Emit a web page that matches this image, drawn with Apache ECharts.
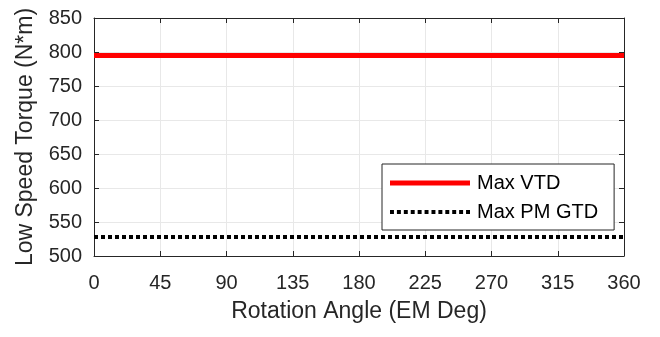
<!DOCTYPE html>
<html>
<head>
<meta charset="utf-8">
<script src="https://cdn.jsdelivr.net/npm/echarts@6/dist/echarts.min.js"></script>
<style>html,body{margin:0;padding:0;background:#fff}#c{width:660px;height:337px}</style>
</head>
<body>
<div id="c"></div>
<script>
const angles = [0, 45, 90, 135, 180, 225, 270, 315, 360];
const maxVTD = [795, 795, 795, 795, 795, 795, 795, 795, 795];
const maxPMGTD = [528, 528, 528, 528, 528, 528, 528, 528, 528];
const xTicks = [0, 45, 90, 135, 180, 225, 270, 315, 360];
const yTicks = [500, 550, 600, 650, 700, 750, 800, 850];

const axisColor = '#262626';
const font = 'Liberation Sans, Arial, sans-serif';
const chart = echarts.init(document.getElementById('c'));
const baseX = {
  type: 'value', min: xTicks[0], max: xTicks[xTicks.length-1], interval: 45,
  axisLine: {show: true, onZero: false, lineStyle: {color: axisColor, width: 1}},
  axisTick: {show: true, inside: true, length: 5, lineStyle: {color: axisColor}},
};
const baseY = {
  type: 'value', min: yTicks[0], max: yTicks[yTicks.length-1], interval: 50,
  axisLine: {show: true, onZero: false, lineStyle: {color: axisColor, width: 1}},
  axisTick: {show: true, inside: true, length: 5, lineStyle: {color: axisColor}},
};
let dots = '';
for (let k = 0; k < 12; k++) dots += 'M' + (k*7) + ',0h4v4h-4z ';
chart.setOption({
  animation: false,
  textStyle: {fontFamily: font},
  grid: {left: 94, right: 36, top: 18, bottom: 81, containLabel: false},
  xAxis: [
    Object.assign({}, baseX, {
      position: 'bottom',
      name: 'Rotation Angle (EM Deg)', nameLocation: 'middle', nameGap: 44,
      nameTextStyle: {fontSize: 23, color: axisColor, fontFamily: font},
      axisLabel: {show: true, fontSize: 20, color: axisColor, margin: 17, fontFamily: font},
      splitLine: {show: true, lineStyle: {color: '#e8e8e8', width: 1}}
    }),
    Object.assign({}, baseX, {
      position: 'top', axisLabel: {show: false}, splitLine: {show: false}
    })
  ],
  yAxis: [
    Object.assign({}, baseY, {
      position: 'left',
      name: 'Low Speed Torque (N*m)', nameLocation: 'middle', nameGap: 57, nameRotate: 90,
      nameTextStyle: {fontSize: 23, color: axisColor, fontFamily: font},
      axisLabel: {show: true, fontSize: 20, color: axisColor, margin: 12, fontFamily: font},
      splitLine: {show: true, lineStyle: {color: '#e8e8e8', width: 1}}
    }),
    Object.assign({}, baseY, {
      position: 'right', axisLabel: {show: false}, splitLine: {show: false}
    })
  ],
  legend: {
    orient: 'vertical', left: 382, top: 164,
    padding: [9, 16, 8, 8], itemGap: 9, itemWidth: 80, itemHeight: 14,
    borderColor: axisColor, borderWidth: 1, backgroundColor: '#fff',
    textStyle: {fontSize: 20, color: '#000', fontFamily: font, padding: [0, 0, 0, 2]},
    data: [
      {name: 'Max VTD', icon: 'path://M0,0 L80,0 L80,5 L0,5 Z', itemStyle: {color: '#ff0000'}},
      {name: 'Max PM GTD', icon: 'path://' + dots, itemStyle: {color: '#000'}}
    ]
  },
  series: [
    {
      name: 'Max VTD', type: 'line', showSymbol: false, symbol: 'none',
      data: angles.map((a, i) => [a, maxVTD[i]]),
      lineStyle: {color: '#ff0000', width: 5}, itemStyle: {color: '#ff0000'}, z: 3
    },
    {
      name: 'Max PM GTD', type: 'line', showSymbol: false, symbol: 'none',
      data: angles.map((a, i) => [a, maxPMGTD[i]]),
      lineStyle: {color: '#000', width: 4, type: [4, 3]}, itemStyle: {color: '#000'}, z: 3
    }
  ]
});
</script>
</body>
</html>
